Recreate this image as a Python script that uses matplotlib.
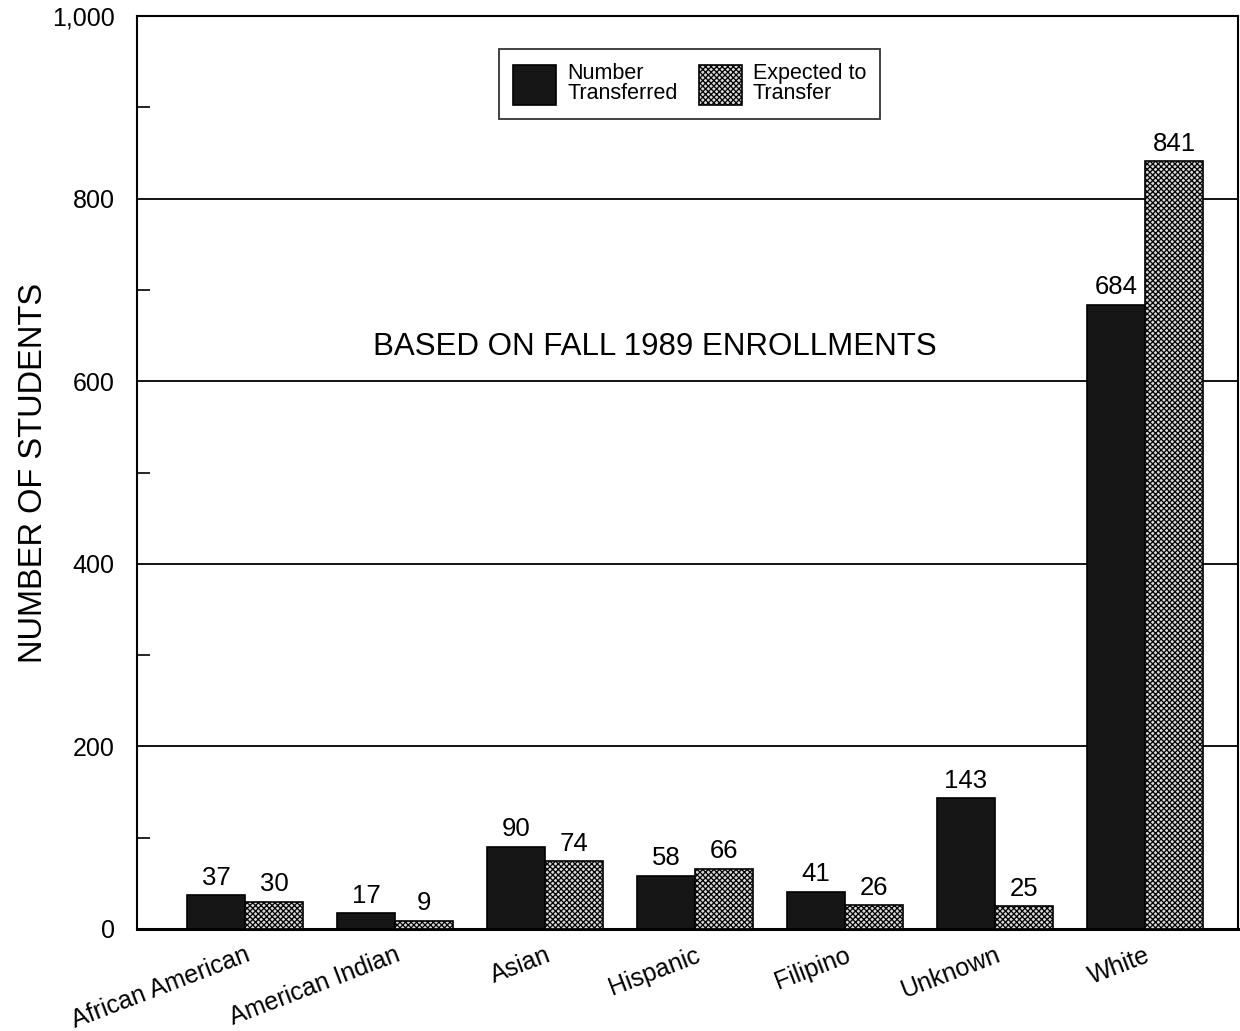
import matplotlib
matplotlib.use("Agg")
import matplotlib.pyplot as plt
import numpy as np
from matplotlib.ticker import FuncFormatter, MultipleLocator

categories = ["African American", "American Indian", "Asian", "Hispanic",
              "Filipino", "Unknown", "White"]
transferred = [37, 17, 90, 58, 41, 143, 684]
expected = [30, 9, 74, 66, 26, 25, 841]
series_labels = ["Number\nTransferred", "Expected to\nTransfer"]
y_major = [0, 200, 400, 600, 800, 1000]

plt.rcParams['font.family'] = ['Liberation Sans', 'DejaVu Sans']
plt.rcParams['hatch.linewidth'] = 0.9

fig = plt.figure(figsize=(12.4, 10.31), dpi=100)
ax = fig.add_axes([137/1240, 102/1031, (1238-137)/1240, (929-16)/1031])

x = np.arange(len(categories))
w = 0.387
b1 = ax.bar(x - w/2, transferred, w, color='#161616', edgecolor='black',
            linewidth=1.2, zorder=3, label=series_labels[0])
b2 = ax.bar(x + w/2, expected, w, facecolor='#d8d8d8', edgecolor='black',
            hatch='xxxxxx', linewidth=1.2, zorder=3, label=series_labels[1])

for bars, vals in ((b1, transferred), (b2, expected)):
    for rect, v in zip(bars, vals):
        ax.annotate(f"{v}", (rect.get_x() + rect.get_width()/2, v),
                    xytext=(0, 4), textcoords='offset points',
                    ha='center', va='bottom', fontsize=18.5)

ax.set_xlim(-0.72, 6.62)
ax.set_ylim(0, 1000)
ax.set_yticks(y_major)
ax.yaxis.set_major_formatter(FuncFormatter(lambda v, p: f"{int(v):,}"))
ax.yaxis.set_minor_locator(MultipleLocator(100))
ax.tick_params(axis='y', which='major', length=0, pad=16, labelsize=18)
ax.tick_params(axis='y', which='minor', direction='in', length=9, width=1.2)
for yv in y_major[1:-1]:
    ax.axhline(yv, color='black', linewidth=1.3, zorder=1)

ax.set_xticks(x)
ax.set_xticklabels(categories, rotation=21, ha='right', rotation_mode='anchor',
                   fontsize=18)
ax.tick_params(axis='x', length=0, pad=10)

for s in ['left', 'top', 'right']:
    ax.spines[s].set_linewidth(1.5)
ax.spines['bottom'].set_linewidth(2.2)

ax.set_ylabel("NUMBER OF STUDENTS", fontsize=23.5)
ax.yaxis.set_label_coords(-0.080, 0.5)

ax.text(2.73, 637, "BASED ON FALL 1989 ENROLLMENTS", ha='center', va='center',
        fontsize=22.5)

leg = ax.legend(loc='center', bbox_to_anchor=(0.502, 0.9255), ncol=2,
                fontsize=15.5, frameon=True, fancybox=False, edgecolor='black',
                handlelength=2.0, handleheight=2.45, columnspacing=1.0,
                handletextpad=0.5, borderpad=0.65, labelspacing=0.3)
leg.get_frame().set_linewidth(1.3)
for t in leg.get_texts():
    t.set_linespacing(0.95)

fig.savefig("out.png", dpi=100)
